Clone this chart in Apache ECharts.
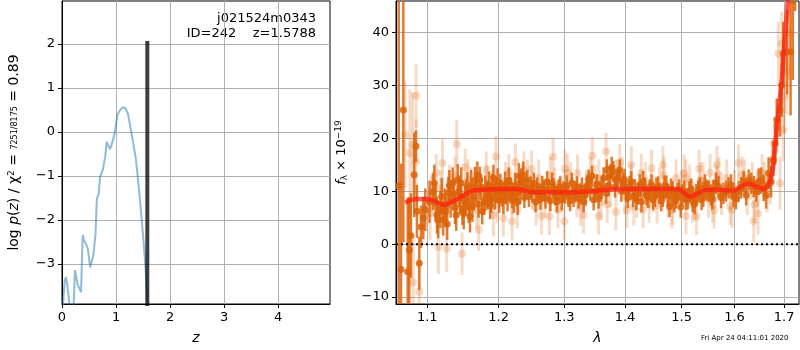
<!DOCTYPE html>
<html lang="en">
<head>
    <meta charset="UTF-8">
    <title></title>
    <script src="https://cdn.jsdelivr.net/npm/echarts@6/dist/echarts.min.js"></script>
</head>
<body style="margin:0">
<div id="box1" style="width: 800px;height: 350px"></div>
<script>
    // left panel: log p(z)
    var zGrid = [0.00, 0.02, 0.05, 0.075, 0.10, 0.14, 0.18, 0.215, 0.24, 0.265, 0.285, 0.31, 0.333, 0.352, 0.383, 0.41,
        0.445, 0.48, 0.52, 0.545, 0.58, 0.62, 0.645, 0.68, 0.705, 0.755, 0.80, 0.825, 0.85, 0.89, 0.915, 0.975,
        1.025, 1.075, 1.12, 1.17, 1.22, 1.27, 1.32, 1.37, 1.42, 1.47, 1.505, 1.54, 1.565, 1.60, 1.64];
    var logPz = [-4.5, -3.91, -3.38, -3.30, -3.5, -3.95, -4.5, -3.95, -3.14, -3.30, -3.46, -3.52, -3.48, -3.64, -2.34, -2.47,
        -2.55, -2.66, -3.08, -3.10, -2.80, -2.34, -1.52, -1.40, -1.02, -0.86, -0.56, -0.22, -0.22, -0.39, -0.30, -0.03,
        0.39, 0.50, 0.56, 0.55, 0.42, 0.08, -0.26, -0.64, -1.24, -1.92, -2.42, -2.98, -3.52, -4.3, -5.0];
    var zBest = 1.5788, pBest = 2.07;
    var zTicks = [0, 1, 2, 3, 4];
    var pTicks = [-3, -2, -1, 0, 1, 2];

    // right panel: spectrum (second half of each list = denser band points)
    var darkWave = [1.0623, 1.0653, 1.0683, 1.0740, 1.0761, 1.0783, 1.0826, 1.0849, 1.0862, 1.0893, 1.0916, 1.0946, 1.0973,
        1.1076, 1.1112, 1.1146, 1.1178, 1.1216, 1.1252, 1.1286, 1.1318, 1.1346, 1.1378, 1.1416, 1.1448, 1.1482, 1.1518,
        1.1552, 1.1588, 1.1622, 1.1658, 1.1692, 1.1728, 1.1762, 1.1790, 1.1822, 1.1860, 1.1892, 1.1924, 1.1962, 1.2008,
        1.2046, 1.2096, 1.2131, 1.2172, 1.2223, 1.2264, 1.2299, 1.2335, 1.2366, 1.2401, 1.2451, 1.2503, 1.2553, 1.2604,
        1.2655, 1.2706, 1.2756, 1.2808, 1.2858, 1.2909, 1.2960, 1.3011, 1.3065, 1.3121, 1.3175, 1.3229, 1.3284, 1.3338,
        1.3392, 1.3448, 1.3502, 1.3556, 1.3611, 1.3681, 1.3693, 1.3747, 1.3801, 1.3856, 1.3910, 1.3964, 1.4021, 1.4079,
        1.4137, 1.4196, 1.4254, 1.4312, 1.4372, 1.4430, 1.4488, 1.4547, 1.4605, 1.4663, 1.4723, 1.4781, 1.4839, 1.4898,
        1.4956, 1.5015, 1.5081, 1.5145, 1.5208, 1.5274, 1.5338, 1.5402, 1.5467, 1.5550, 1.5595, 1.5692, 1.5788, 1.5885,
        1.5981, 1.6080, 1.6180, 1.6280, 1.6380, 1.6480, 1.6580, 1.6680, 1.6780, 1.6848, 1.6914, 1.6980, 1.7061, 1.7133,
        1.7181, 1.7229,
        1.1030, 1.1095, 1.1130, 1.1195, 1.1235, 1.1270, 1.1300, 1.1360, 1.1395, 1.1432, 1.1465, 1.1500, 1.1535, 1.1570,
        1.1605, 1.1640, 1.1675, 1.1710, 1.1745, 1.1806, 1.1840, 1.1876, 1.1908, 1.1943, 1.1985, 1.2025, 1.2070, 1.2113,
        1.2150, 1.2198, 1.2243, 1.2282, 1.2318, 1.2383, 1.2426, 1.2477, 1.2528, 1.2578, 1.2630, 1.2680, 1.2731, 1.2782,
        1.2833, 1.2884, 1.2935, 1.2986, 1.3038, 1.3093, 1.3148, 1.3202, 1.3256, 1.3311, 1.3365, 1.3420, 1.3475, 1.3529,
        1.3584, 1.3640, 1.3720, 1.3775, 1.3830, 1.3883, 1.3937, 1.3992, 1.4050, 1.4108, 1.4166, 1.4225, 1.4283, 1.4342,
        1.4401, 1.4459, 1.4518, 1.4576, 1.4634, 1.4693, 1.4752, 1.4810, 1.4868, 1.4927, 1.4985, 1.5048, 1.5113, 1.5176,
        1.5241, 1.5306, 1.5370, 1.5434, 1.5508, 1.5572, 1.5640, 1.5740, 1.5836, 1.5933, 1.6030, 1.6130, 1.6230, 1.6330,
        1.6430, 1.6530, 1.6630, 1.6730, 1.6815, 1.6950];
    var darkFlux = [11.0, -4.8, 25.3, -5.2, -1.1, 1.6, 13.1, 18.5, 6.2, -3.6, 3.3, 4.9, 6.5,
        9.9, 7.7, 4.6, 6.5, 4.6, 6.2, 9.7, 8.0, 11.5, 6.8, 12.1, 8.7, 6.6, 8.4,
        10.6, 5.2, 7.2, 12.1, 13.1, 12.1, 6.2, 8.0, 8.9, 11.2, 8.4, 12.5, 10.2, 8.4,
        9.6, 11.2, 8.7, 10.2, 8.4, 9.6, 12.8, 11.8, 13.1, 10.6, 9.0, 9.9, 8.0, 9.6,
        10.9, 8.7, 10.2, 11.5, 9.3, 10.2, 8.4, 9.6, 9.0, 11.5, 9.9, 8.7, 10.6, 9.3,
        12.1, 12.8, 9.9, 8.7, 10.6, 9.6, 14.0, 12.8, 13.7, 12.1, 14.0, 11.5, 9.9, 10.9,
        9.0, 8.4, 11.2, 11.8, 9.3, 10.2, 8.4, 10.6, 9.6, 9.0, 10.9, 7.1, 9.9, 8.7,
        10.2, 9.3, 8.4, 9.9, 8.0, 9.3, 10.6, 9.0, 10.2, 9.3, 10.2, 10.9, 9.6, 10.6,
        9.0, 9.9, 11.8, 12.1, 10.9, 11.8, 10.6, 13.4, 15.9, 23.5, 25.3, 36.0, 36.3, 36.3,
        46.0, 50.0,
        8.0, 11.5, 5.5, 9.0, 7.5, 3.8, 11.0, 9.5, 5.5, 10.0, 11.5, 5.8, 9.2, 7.0,
        11.0, 8.8, 10.3, 7.5, 10.8, 10.5, 9.5, 7.2, 10.8, 9.0, 11.8, 10.8, 8.2, 10.0,
        12.0, 9.3, 11.0, 8.0, 10.0, 8.8, 12.0, 10.8, 11.5, 10.6, 8.5, 10.2, 11.8, 8.2,
        10.5, 8.0, 10.8, 9.9, 11.0, 8.2, 9.0, 10.8, 9.5, 8.0, 11.0, 10.2, 8.4, 11.2,
        10.0, 12.5, 11.0, 14.5, 10.8, 12.6, 10.0, 12.2, 8.8, 11.8, 10.3, 9.5, 8.0, 10.6,
        8.8, 11.2, 9.0, 10.8, 8.2, 11.0, 9.3, 10.4, 8.0, 9.6, 7.0, 10.0, 8.6, 10.4,
        7.6, 10.0, 8.4, 11.2, 10.0, 8.5, 11.5, 8.8, 10.0, 11.2, 8.6, 10.6, 9.3, 11.5,
        10.0, 12.0, 9.2, 11.8, 19.0, 30.0];
    var darkErr = [60, 20, 25, 14, 10, 8, 8, 3, 5, 5, 4, 4, 4,
        3.5, 3.5, 3.5, 3.5, 3, 3, 3, 3, 3, 3, 3, 3, 3, 3,
        3, 3, 3, 2.5, 2.5, 2.5, 2.5, 2.5, 2.5, 2.5, 2.5, 2.5, 2.5, 2.5,
        2.5, 2.5, 2.5, 2.5, 2.5, 2.5, 2.5, 2.5, 2.5, 2, 2, 2, 2, 2,
        2, 2, 2, 2, 2, 2, 2, 2, 2, 2, 2, 2, 2, 2,
        2, 2, 2, 2, 2, 2, 2, 2, 2, 2, 2, 2, 2, 2,
        2, 2, 2, 2, 2, 2, 2, 2, 2, 2, 2, 2, 2, 2,
        2, 2, 2, 2, 2, 2, 2, 2, 2, 2, 2, 2, 2, 2,
        2, 2, 2, 2, 2, 2.5, 2.5, 3, 3, 4, 5, 6, 8, 12,
        15, 6,
        4, 3.5, 3.5, 3.5, 3, 3, 3, 3, 3, 3, 3, 3, 3, 3,
        3, 2.5, 2.5, 2.5, 2.5, 2.5, 2.5, 2.5, 2.5, 2.5, 2.5, 2.5, 2.5, 2.5,
        2.5, 2.5, 2.5, 2.5, 2.5, 2, 2, 2, 2, 2, 2, 2, 2, 2,
        2, 2, 2, 2, 2, 2, 2, 2, 2, 2, 2, 2, 2, 2,
        2, 2, 2, 2, 2, 2, 2, 2, 2, 2, 2, 2, 2, 2,
        2, 2, 2, 2, 2, 2, 2, 2, 2, 2, 2, 2, 2, 2,
        2, 2, 2, 2, 2, 2, 2, 2, 2, 2, 2, 2, 2, 2,
        2, 2.5, 2.5, 3, 4, 6];

    var lightWave = [1.0705, 1.0768, 1.0804, 1.0849, 1.0813, 1.0893, 1.0850, 1.1038, 1.1150, 1.1206, 1.1262, 1.1402, 1.1476,
        1.1560, 1.1710, 1.1832, 1.1924, 1.1962, 1.2070, 1.2248, 1.2198, 1.2375, 1.2492, 1.2645, 1.2767, 1.2823, 1.3000,
        1.3011, 1.3212, 1.3310, 1.3453, 1.3556, 1.3681, 1.3845, 1.3910, 1.4032, 1.4109, 1.4312, 1.4460, 1.4558, 1.4663,
        1.4839, 1.5048, 1.5081, 1.5274, 1.5324, 1.5531, 1.5608, 1.5660, 1.5917, 1.6080, 1.6380, 1.6468, 1.6714, 1.6848,
        1.6880, 1.6980, 1.6948, 1.7050, 1.6914,
        1.105, 1.118, 1.130, 1.145, 1.160, 1.175, 1.190, 1.210, 1.220, 1.235, 1.250, 1.260, 1.270, 1.285, 1.295,
        1.310, 1.320, 1.335, 1.350, 1.360, 1.375, 1.385, 1.400, 1.410, 1.420, 1.435, 1.450, 1.460, 1.475, 1.490,
        1.500, 1.515, 1.525, 1.540, 1.550, 1.565, 1.575, 1.585, 1.600, 1.615, 1.625, 1.635, 1.645, 1.655, 1.665,
        1.675, 1.680, 1.700, 1.710,
        1.112, 1.125, 1.138, 1.152, 1.168, 1.182, 1.198, 1.215, 1.228, 1.243, 1.256, 1.278, 1.290, 1.305, 1.326,
        1.342, 1.356, 1.370, 1.395, 1.415, 1.428, 1.442, 1.468, 1.482, 1.508, 1.520, 1.535, 1.558, 1.570, 1.595,
        1.620, 1.640, 1.660];
    var lightFlux = [20.6, 17.2, 18.7, 15.6, -7.2, -9.0, 28.0, 5.8, -0.6, 15.3, -0.8, 18.9, -1.8,
        12.1, 2.7, 11.0, 5.5, 16.5, 4.9, 15.5, 4.3, 14.0, 14.2, 5.3, 5.2, 16.5, 4.3,
        14.3, 13.4, 5.5, 16.7, 5.3, 17.5, 6.1, 15.4, 6.5, 15.0, 6.5, 14.3, 7.4, 15.0,
        7.1, 13.4, 5.3, 5.2, 14.3, 13.5, 6.4, 15.0, 7.1, 15.3, 4.3, 5.8, 11.5, 22.2,
        36.0, 21.6, 37.9, 32.6, 11.5,
        9.5, 10.5, 11.5, 9.0, 11.0, 9.5, 10.5, 12.0, 9.0, 11.5, 10.0, 12.5, 8.5, 11.0, 9.5,
        12.0, 8.5, 10.5, 11.5, 8.0, 10.5, 12.5, 9.0, 11.5, 8.5, 12.0, 9.5, 11.0, 8.5, 12.5,
        10.5, 11.5, 8.0, 12.0, 8.5, 11.5, 9.0, 12.5, 10.5, 13.0, 9.0, 12.0, 10.5, 13.5, 9.5,
        16.0, 19.0, 28.0, 40.0,
        13.5, 7.0, 13.0, 14.5, 6.5, 14.0, 7.5, 13.5, 6.5, 12.5, 7.0, 13.0, 6.5, 13.5, 7.0,
        13.0, 12.5, 7.5, 13.0, 7.0, 13.5, 7.5, 13.0, 6.5, 12.5, 7.5, 12.0, 7.5, 13.0, 6.5,
        12.5, 7.5, 12.0];
    var lightErr = [10, 12, 10, 8, 8, 6, 6, 5, 5, 4.5, 4.5, 4.5, 4,
        4, 4, 4, 4, 4, 3.5, 3.5, 3.5, 3.5, 3.5, 3.5, 3.5, 3.5, 3.5,
        3.5, 3.5, 3.5, 3.5, 3.5, 3.5, 3.5, 3.5, 3.5, 3.5, 3.5, 3.5, 3.5, 3.5,
        3.5, 3.5, 3.5, 3.5, 3.5, 3.5, 3.5, 3.5, 3.5, 3.5, 4, 4, 4, 5,
        6, 6, 6, 8, 5,
        3.5, 3.5, 3.5, 3.5, 3.5, 3.5, 3.5, 3.5, 3.5, 3.5, 3.5, 3.5, 3.5, 3.5, 3.5,
        3.5, 3.5, 3.5, 3.5, 3.5, 3.5, 3.5, 3.5, 3.5, 3.5, 3.5, 3.5, 3.5, 3.5, 3.5,
        3.5, 3.5, 3.5, 3.5, 3.5, 3.5, 3.5, 3.5, 3.5, 3.5, 3.5, 3.5, 3.5, 3.5, 3.5,
        4, 5, 7, 9,
        3.5, 3.5, 3.5, 3.5, 3.5, 3.5, 3.5, 3.5, 3.5, 3.5, 3.5, 3.5, 3.5, 3.5, 3.5,
        3.5, 3.5, 3.5, 3.5, 3.5, 3.5, 3.5, 3.5, 3.5, 3.5, 3.5, 3.5, 3.5, 3.5, 3.5,
        3.5, 3.5, 3.5];

    var modelWave = [1.0705, 1.0859, 1.0992, 1.1104, 1.1217, 1.1354, 1.1494, 1.1612, 1.1826, 1.2068, 1.2267, 1.2418,
        1.2570, 1.2984, 1.3305, 1.3633, 1.3858, 1.4375, 1.4910, 1.4971, 1.5094, 1.5145, 1.5240, 1.5430, 1.5630,
        1.5980, 1.6110, 1.6280, 1.6450, 1.6580, 1.6680, 1.6750, 1.6810, 1.6880, 1.6950, 1.7010, 1.7060, 1.7100];
    var modelFlux = [7.85, 8.5, 8.5, 8.1, 7.4, 8.1, 9.2, 10.1, 10.3, 10.4, 10.4, 10.0,
        9.8, 9.8, 9.9, 10.2, 10.4, 10.4, 10.4, 10.3, 9.3, 9.0, 9.3, 10.2, 10.3,
        10.1, 10.8, 11.4, 10.8, 10.4, 11.2, 13.4, 18.4, 24.7, 31.0, 38.5, 44.2, 50.0];

    var lamTicks = [1.1, 1.2, 1.3, 1.4, 1.5, 1.6, 1.7];
    var fTicks = [-10, 0, 10, 20, 30, 40];
    var lamMin = 1.0588, lamMax = 1.731;

    var FONT = 'DejaVu Sans';
    var mychar = echarts.init(document.getElementById("box1"));

    function minusSign(v) {
        return String(v).replace('-', '\u2212');
    }

    function axisStyle(extra) {
        var base = {
            axisLine: {show: true, onZero: false, lineStyle: {color: '#000', width: 1}},
            axisTick: {show: true, length: 4, lineStyle: {color: '#000'}},
            axisLabel: {color: '#000', fontSize: 13, fontFamily: FONT, margin: 7, formatter: minusSign},
            splitLine: {show: true, lineStyle: {color: '#b0b0b0', width: 1}},
            nameLocation: 'middle',
            nameTextStyle: {color: '#000', fontSize: 13, fontFamily: FONT}
        };
        for (var k in extra) {
            if (typeof extra[k] === 'object' && base[k] && !Array.isArray(extra[k])) {
                base[k] = Object.assign({}, base[k], extra[k]);
            } else {
                base[k] = extra[k];
            }
        }
        return base;
    }

    function errBars(color, lw, r) {
        return function (params, api) {
            var x = api.value(0), y = api.value(1), e = api.value(2);
            var top = api.coord([x, y + e]);
            var bot = api.coord([x, y - e]);
            var c = api.coord([x, y]);
            return {
                type: 'group',
                children: [
                    {type: 'line', shape: {x1: top[0], y1: top[1], x2: bot[0], y2: bot[1]}, style: {stroke: color, lineWidth: lw}},
                    {type: 'circle', shape: {cx: c[0], cy: c[1], r: r}, style: {fill: color}}
                ]
            };
        };
    }

    var lightData = lightWave.map(function (w, i) { return [w, lightFlux[i], lightErr[i]]; });
    var darkData = darkWave.map(function (w, i) { return [w, darkFlux[i], darkErr[i]]; });

    var option = {
        animation: false,
        textStyle: {fontFamily: FONT},
        grid: [
            {left: 62, top: 1, width: 268, height: 303, show: true, borderColor: '#000', borderWidth: 1},
            {left: 396, top: 1, width: 403, height: 303, show: true, borderColor: '#000', borderWidth: 1}
        ],
        xAxis: [
            axisStyle({
                type: 'value', gridIndex: 0, min: 0, max: 4.96,
                axisTick: {customValues: zTicks},
                axisLabel: {customValues: zTicks},
                name: 'z', nameGap: 27,
                nameTextStyle: {fontStyle: 'italic', fontSize: 14}
            }),
            axisStyle({
                type: 'log', gridIndex: 1, min: lamMin, max: lamMax, logBase: 10,
                name: 'λ', nameGap: 27,
                nameTextStyle: {fontStyle: 'italic', fontSize: 14},
                axisTick: {customValues: lamTicks},
                axisLabel: {customValues: lamTicks, formatter: function (v) { return Number(v).toFixed(1); }},
                minorSplitLine: {show: false}
            })
        ],
        yAxis: [
            axisStyle({
                type: 'value', gridIndex: 0, min: -3.91, max: 2.98,
                axisTick: {customValues: pTicks},
                axisLabel: {customValues: pTicks},
                name: '{t|log }{i|p}{t|(}{i|z}{t|) / χ}{s|2}{t| = }{f|7251/8175}{t| = 0.89}',
                nameGap: 40,
                nameTextStyle: {
                    rich: {
                        t: {fontSize: 14, fontFamily: FONT, color: '#000'},
                        i: {fontSize: 14, fontFamily: FONT, fontStyle: 'italic', color: '#000'},
                        s: {fontSize: 9, fontFamily: FONT, color: '#000', verticalAlign: 'top', padding: [0, 0, 6, 0]},
                        f: {fontSize: 8, fontFamily: FONT, color: '#000'}
                    }
                }
            }),
            axisStyle({
                type: 'value', gridIndex: 1, min: -11.3, max: 45.9,
                axisTick: {customValues: fTicks},
                axisLabel: {customValues: fTicks},
                name: '{i|f}{s|λ}{t| × 10}{u|−19}',
                nameGap: 46,
                nameTextStyle: {
                    rich: {
                        t: {fontSize: 13, fontFamily: FONT, color: '#000'},
                        i: {fontSize: 13, fontFamily: FONT, fontStyle: 'italic', color: '#000'},
                        s: {fontSize: 9, fontFamily: FONT, color: '#000', padding: [5, 0, 0, 0]},
                        u: {fontSize: 9, fontFamily: FONT, color: '#000', padding: [0, 0, 7, 0]}
                    }
                }
            })
        ],
        graphic: [
            {type: 'text', right: 484, top: 12, style: {text: 'j021524m0343', font: '13px DejaVu Sans', fill: '#000', textAlign: 'right'}},
            {type: 'text', right: 484, top: 27, style: {text: 'ID=242    z=1.5788', font: '13px DejaVu Sans', fill: '#000', textAlign: 'right'}},
            {type: 'text', left: 701, top: 335, style: {text: 'Fri Apr 24 04:11:01 2020', font: '7px DejaVu Sans', fill: '#000'}}
        ],
        series: [
            {
                type: 'line', xAxisIndex: 0, yAxisIndex: 0, symbol: 'none', clip: true,
                data: zGrid.map(function (z, i) { return [z, logPz[i]]; }),
                lineStyle: {color: 'rgba(31,119,180,0.5)', width: 2}
            },
            {
                type: 'line', xAxisIndex: 0, yAxisIndex: 0, symbol: 'none', clip: true,
                data: [[zBest, -5], [zBest, pBest]],
                lineStyle: {color: 'rgba(0,0,0,0.75)', width: 4, cap: 'butt'}
            },
            {
                type: 'custom', xAxisIndex: 1, yAxisIndex: 1, clip: true,
                renderItem: errBars('rgba(226,112,30,0.25)', 3, 4),
                data: lightData
            },
            {
                type: 'custom', xAxisIndex: 1, yAxisIndex: 1, clip: true,
                renderItem: errBars('rgba(220,100,10,0.85)', 2.5, 3.5),
                data: darkData
            },
            {
                type: 'line', xAxisIndex: 1, yAxisIndex: 1, symbol: 'none', clip: true, smooth: 0.3,
                data: modelWave.map(function (w, i) { return [w, modelFlux[i]]; }),
                lineStyle: {color: 'rgba(255,30,20,0.72)', width: 4.5}
            },
            {
                type: 'line', xAxisIndex: 1, yAxisIndex: 1, symbol: 'none', clip: true,
                data: [[lamMin, 0], [lamMax, 0]],
                lineStyle: {color: '#000', width: 2, type: [2, 3]}
            }
        ]
    };
    mychar.setOption(option);
</script>
</body>
</html>
